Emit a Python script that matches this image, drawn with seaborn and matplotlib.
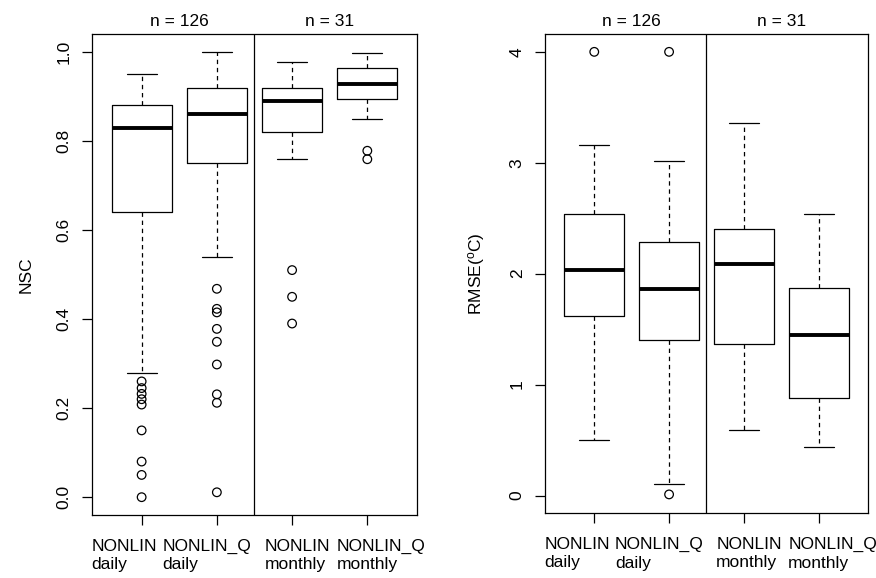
import numpy as np
import pandas as pd
import matplotlib
matplotlib.use("Agg")
import matplotlib.pyplot as plt
from matplotlib.collections import PathCollection
import seaborn as sns

# ---------------- data ----------------
groups = ["NONLIN\ndaily", "NONLIN_Q\ndaily", "NONLIN\nmonthly", "NONLIN_Q\nmonthly"]
n_labels = ["n = 126", "n = 31"]

# NSC panel: lower whisker, Q1, median, Q3, upper whisker
nsc_whislo = [0.28, 0.54, 0.76, 0.85]
nsc_q1 = [0.64, 0.75, 0.82, 0.895]
nsc_med = [0.83, 0.86, 0.89, 0.928]
nsc_q3 = [0.88, 0.918, 0.918, 0.963]
nsc_whishi = [0.95, 1.00, 0.978, 0.998]
nsc_outliers = [
    [0.26, 0.245, 0.232, 0.22, 0.208, 0.15, 0.08, 0.05, 0.0],
    [0.468, 0.423, 0.415, 0.378, 0.349, 0.298, 0.231, 0.212, 0.011],
    [0.51, 0.45, 0.39],
    [0.778, 0.759],
]

# RMSE panel
rmse_whislo = [0.505, 0.10, 0.59, 0.44]
rmse_q1 = [1.615, 1.40, 1.37, 0.88]
rmse_med = [2.03, 1.865, 2.09, 1.45]
rmse_q3 = [2.54, 2.29, 2.40, 1.87]
rmse_whishi = [3.16, 3.015, 3.36, 2.54]
rmse_outliers = [[4.0], [4.0, 0.01], [], []]

nsc_ticks = [0.0, 0.2, 0.4, 0.6, 0.8, 1.0]
rmse_ticks = [0, 1, 2, 3, 4]

# left-edge offset (points) of each x label block relative to its tick
label_shift_pt = [-36, -39, -20, -22]


def five_number_frame(lo, q1, med, q3, hi):
    rows = []
    for g, a, b, c, d, e in zip(groups, lo, q1, med, q3, hi):
        for v in (a, b, c, d, e):
            rows.append({"group": g, "value": v})
    return pd.DataFrame(rows)


def outlier_frame(outs):
    rows = []
    for g, vals in zip(groups, outs):
        for v in vals:
            rows.append({"group": g, "value": v})
    return pd.DataFrame(rows)


sns.set_theme(style="white")
plt.rcParams["font.family"] = ["Liberation Sans", "DejaVu Sans"]
plt.rcParams["mathtext.fontset"] = "custom"
plt.rcParams["mathtext.rm"] = "Liberation Sans"
plt.rcParams["mathtext.it"] = "Liberation Sans"
plt.rcParams["text.color"] = "black"
plt.rcParams["axes.labelcolor"] = "black"
plt.rcParams["xtick.color"] = "black"
plt.rcParams["ytick.color"] = "black"

fig = plt.figure(figsize=(8.76, 5.78), dpi=100)
fig.patch.set_facecolor("white")
ax1 = fig.add_axes([0.105, 0.109, 0.371, 0.832])
ax2 = fig.add_axes([0.622, 0.112, 0.369, 0.829])

FS = 12.5


def draw_panel(ax, box_df, out_df, ylim, yticks, ytick_labels, ylabel):
    sns.boxplot(
        data=box_df, x="group", y="value", order=groups, ax=ax,
        whis=(0, 100), showfliers=False, fill=False, color="black",
        linewidth=0.9, width=0.8,
        whiskerprops={"linestyle": (0, (3.5, 3.0)), "linewidth": 0.9},
        capprops={"linestyle": "-", "linewidth": 0.9},
        medianprops={"linewidth": 2.8},
        boxprops={"linewidth": 0.9},
    )
    if len(out_df):
        sns.stripplot(
            data=out_df, x="group", y="value", order=groups, ax=ax,
            jitter=False, dodge=False, color="black", edgecolor="black",
            linewidth=0.9, size=6.2, marker="o",
        )
        for coll in ax.collections:
            if isinstance(coll, PathCollection):
                coll.set_facecolor("none")
                coll.set_edgecolor("black")
    ax.axvline(1.5, color="black", linewidth=0.9)
    ax.set_xlim(-0.66, 3.66)
    ax.set_ylim(*ylim)
    ax.set_yticks(yticks)
    ax.set_yticklabels(ytick_labels, rotation=90, va="center", fontsize=FS,
                       color="black")
    ax.set_xticks(range(len(groups)))
    ax.set_xticklabels([""] * len(groups))
    for i, (g, dx) in enumerate(zip(groups, label_shift_pt)):
        ax.annotate(g, xy=(i, 0), xycoords=ax.get_xaxis_transform(),
                    xytext=(dx, -17), textcoords="offset points",
                    ha="left", va="top", fontsize=FS, linespacing=1.3,
                    color="black", annotation_clip=False)
    ax.set_xlabel("")
    ax.set_ylabel(ylabel, fontsize=FS, color="black")
    ax.yaxis.set_label_coords(-0.18, 0.5)
    ax.tick_params(axis="both", direction="out", length=7.5, width=0.9,
                   colors="black", left=True, bottom=True)
    ax.tick_params(axis="y", pad=7)
    for sp in ax.spines.values():
        sp.set_visible(True)
        sp.set_color("black")
        sp.set_linewidth(0.9)
    ax.set_facecolor("white")
    ax.text(0.5, 1.01, n_labels[0], transform=ax.get_xaxis_transform(),
            ha="center", va="bottom", fontsize=FS, color="black")
    ax.text(2.5, 1.01, n_labels[1], transform=ax.get_xaxis_transform(),
            ha="center", va="bottom", fontsize=FS, color="black")


draw_panel(
    ax1,
    five_number_frame(nsc_whislo, nsc_q1, nsc_med, nsc_q3, nsc_whishi),
    outlier_frame(nsc_outliers),
    (-0.04, 1.04), nsc_ticks, [f"{t:.1f}" for t in nsc_ticks], "NSC",
)
draw_panel(
    ax2,
    five_number_frame(rmse_whislo, rmse_q1, rmse_med, rmse_q3, rmse_whishi),
    outlier_frame(rmse_outliers),
    (-0.16, 4.16), rmse_ticks, [str(t) for t in rmse_ticks],
    r"RMSE($^{\mathrm{o}}$C)",
)

fig.savefig("out.png", dpi=100, facecolor="white")
